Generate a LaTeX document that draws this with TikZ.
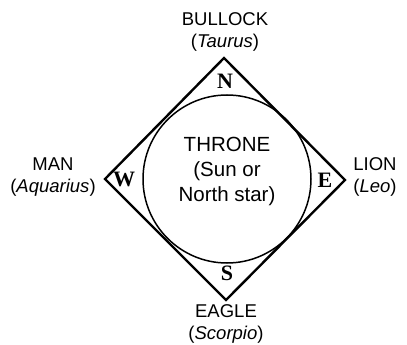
\documentclass[tikz,border=0pt]{standalone}
\usepackage{fontspec}
\setmainfont{Liberation Sans}
\newfontfamily\dirfont{Liberation Serif}
\begin{document}
\begin{tikzpicture}[x=1pt,y=-1pt,
  lbl/.style={align=center,font=\fontsize{18.5}{22}\selectfont,inner sep=0pt},
  thr/.style={align=center,font=\fontsize{20.5}{25}\selectfont,inner sep=0pt},
  dir/.style={font=\dirfont\bfseries\fontsize{22}{24}\selectfont,inner sep=0pt},
  frame/.style={draw=black,line width=2.4pt,line join=miter},
  ring/.style={draw=black,line width=1.5pt}]
\useasboundingbox (0,0) rectangle (407,345);
\coordinate (top) at (224,58);
\coordinate (rt) at (345,180);
\coordinate (bot) at (226,300);
\coordinate (lf) at (105,179);
\draw[frame] (top) -- (rt) -- (bot) -- (lf) -- cycle;
\node[ring,circle,minimum size=168pt,inner sep=0pt] (ring) at (227,179) {};
\node[thr] (throne) at (227,171) {THRONE\\(Sun or\\North star)};
\node[dir] (n) at (225,81) {N};
\node[dir] (w) at (124,179) {W};
\node[dir] (e) at (325,180) {E};
\node[dir] (s) at (227,273) {S};
\node[lbl] (bull) at (225,31.5) {BULLOCK\\(\textit{Taurus})};
\node[lbl] (man) at (53,177) {MAN\\(\textit{Aquarius})};
\node[lbl] (lion) at (375,177) {LION\\(\textit{Leo})};
\node[lbl] (eagle) at (226,324) {EAGLE\\(\textit{Scorpio})};
\end{tikzpicture}
\end{document}
